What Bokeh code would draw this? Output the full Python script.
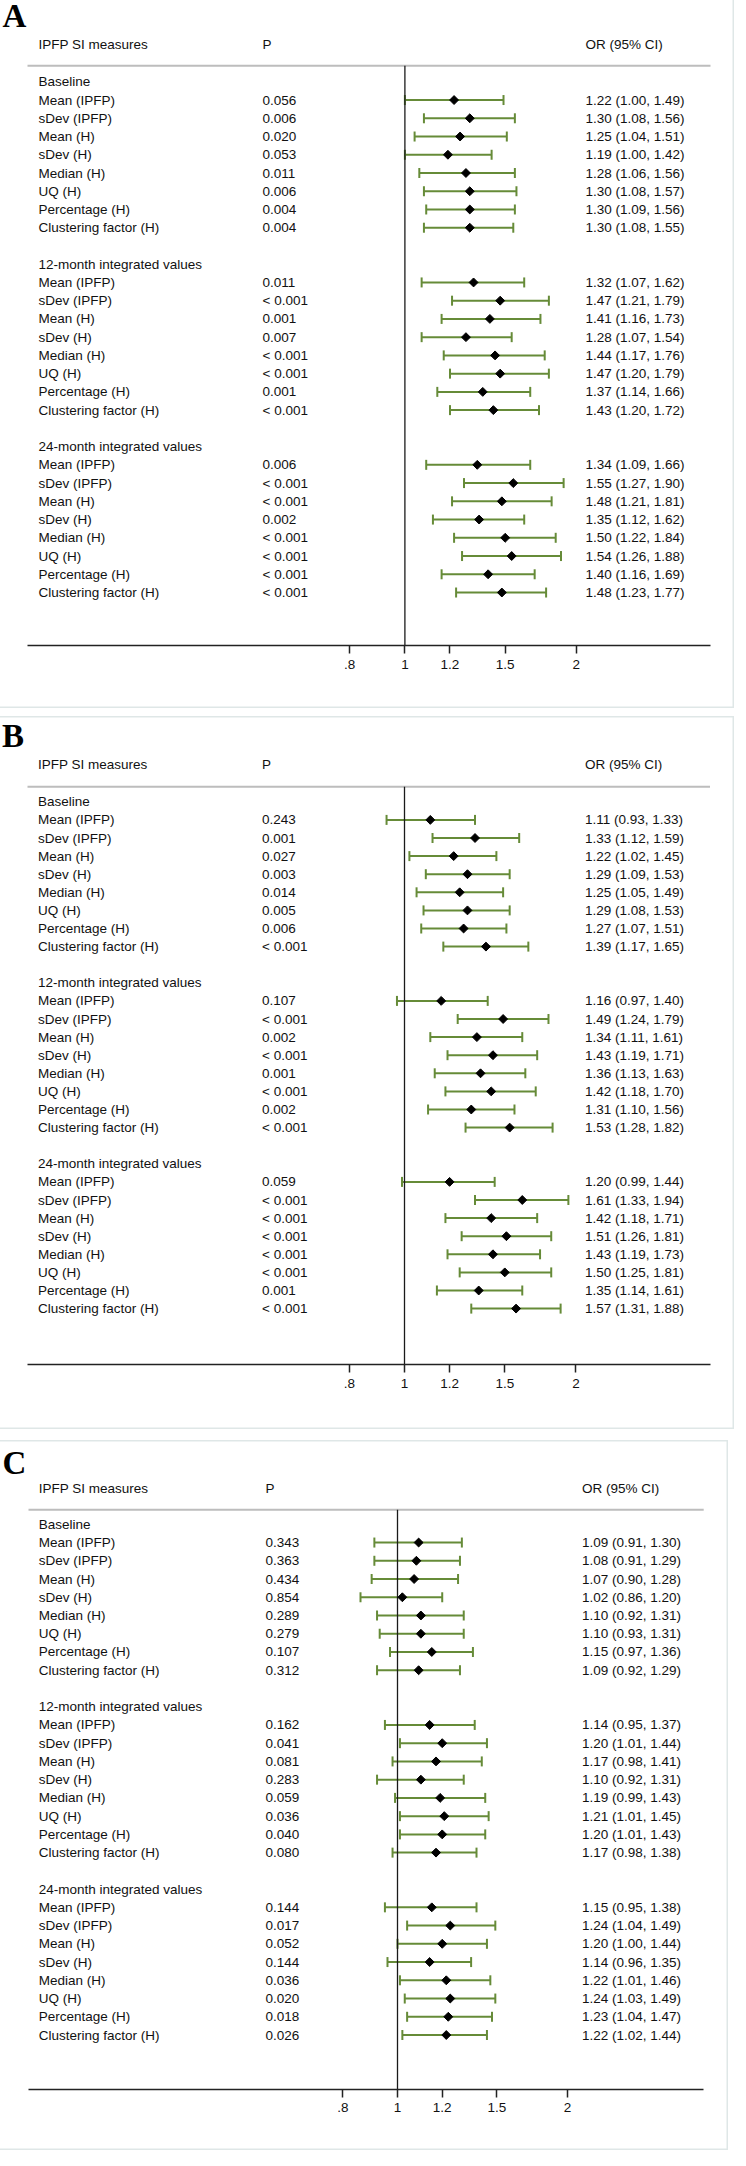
import math
from bokeh.plotting import figure
from bokeh.models import ColumnDataSource, Range1d, LogAxis, FixedTicker, Whisker, TeeHead
from bokeh.layouts import column
from bokeh.embed import file_html
from bokeh.resources import INLINE
from bokeh.core.properties import value

# ---------------- data ----------------
sections = ["Baseline", "12-month integrated values", "24-month integrated values"]
measures = ["Mean (IPFP)", "sDev (IPFP)", "Mean (H)", "sDev (H)", "Median (H)",
            "UQ (H)", "Percentage (H)", "Clustering factor (H)"]
col_headers = ["IPFP SI measures", "P", "OR (95% CI)"]
ticks = [0.8, 1, 1.2, 1.5, 2]
tick_labels = [".8", "1", "1.2", "1.5", "2"]
panel_letters = ["A", "B", "C"]

# Panel A
a_p = ["0.056", "0.006", "0.020", "0.053", "0.011", "0.006", "0.004", "0.004",
       "0.011", "< 0.001", "0.001", "0.007", "< 0.001", "< 0.001", "0.001", "< 0.001",
       "0.006", "< 0.001", "< 0.001", "0.002", "< 0.001", "< 0.001", "< 0.001", "< 0.001"]
a_or = [1.22, 1.30, 1.25, 1.19, 1.28, 1.30, 1.30, 1.30,
        1.32, 1.47, 1.41, 1.28, 1.44, 1.47, 1.37, 1.43,
        1.34, 1.55, 1.48, 1.35, 1.50, 1.54, 1.40, 1.48]
a_lo = [1.00, 1.08, 1.04, 1.00, 1.06, 1.08, 1.09, 1.08,
        1.07, 1.21, 1.16, 1.07, 1.17, 1.20, 1.14, 1.20,
        1.09, 1.27, 1.21, 1.12, 1.22, 1.26, 1.16, 1.23]
a_hi = [1.49, 1.56, 1.51, 1.42, 1.56, 1.57, 1.56, 1.55,
        1.62, 1.79, 1.73, 1.54, 1.76, 1.79, 1.66, 1.72,
        1.66, 1.90, 1.81, 1.62, 1.84, 1.88, 1.69, 1.77]

# Panel B
b_p = ["0.243", "0.001", "0.027", "0.003", "0.014", "0.005", "0.006", "< 0.001",
       "0.107", "< 0.001", "0.002", "< 0.001", "0.001", "< 0.001", "0.002", "< 0.001",
       "0.059", "< 0.001", "< 0.001", "< 0.001", "< 0.001", "< 0.001", "0.001", "< 0.001"]
b_or = [1.11, 1.33, 1.22, 1.29, 1.25, 1.29, 1.27, 1.39,
        1.16, 1.49, 1.34, 1.43, 1.36, 1.42, 1.31, 1.53,
        1.20, 1.61, 1.42, 1.51, 1.43, 1.50, 1.35, 1.57]
b_lo = [0.93, 1.12, 1.02, 1.09, 1.05, 1.08, 1.07, 1.17,
        0.97, 1.24, 1.11, 1.19, 1.13, 1.18, 1.10, 1.28,
        0.99, 1.33, 1.18, 1.26, 1.19, 1.25, 1.14, 1.31]
b_hi = [1.33, 1.59, 1.45, 1.53, 1.49, 1.53, 1.51, 1.65,
        1.40, 1.79, 1.61, 1.71, 1.63, 1.70, 1.56, 1.82,
        1.44, 1.94, 1.71, 1.81, 1.73, 1.81, 1.61, 1.88]

# Panel C
c_p = ["0.343", "0.363", "0.434", "0.854", "0.289", "0.279", "0.107", "0.312",
       "0.162", "0.041", "0.081", "0.283", "0.059", "0.036", "0.040", "0.080",
       "0.144", "0.017", "0.052", "0.144", "0.036", "0.020", "0.018", "0.026"]
c_or = [1.09, 1.08, 1.07, 1.02, 1.10, 1.10, 1.15, 1.09,
        1.14, 1.20, 1.17, 1.10, 1.19, 1.21, 1.20, 1.17,
        1.15, 1.24, 1.20, 1.14, 1.22, 1.24, 1.23, 1.22]
c_lo = [0.91, 0.91, 0.90, 0.86, 0.92, 0.93, 0.97, 0.92,
        0.95, 1.01, 0.98, 0.92, 0.99, 1.01, 1.01, 0.98,
        0.95, 1.04, 1.00, 0.96, 1.01, 1.03, 1.04, 1.02]
c_hi = [1.30, 1.29, 1.28, 1.20, 1.31, 1.31, 1.36, 1.29,
        1.37, 1.44, 1.41, 1.31, 1.43, 1.45, 1.43, 1.38,
        1.38, 1.49, 1.44, 1.35, 1.46, 1.49, 1.47, 1.44]

# ---------------- styling / layout ----------------
FONT = "Liberation Sans"
FS = "13.5px"
TXT = "#111111"
CI_COLOR = "#668b38"


def make_panel(letter, pvals, ors, los, his, g):
    W, H = g["W"], g["H"]
    x1, k = g["x1"], g["k"]
    row0, step = g["row0"], g["step"]

    def px2x(px):
        return math.exp((px - x1) / k)

    def py2y(py):
        return (py - row0) / step

    p = figure(width=W, height=H, x_axis_type="log",
               x_range=Range1d(px2x(0), px2x(W)),
               y_range=Range1d(py2y(H), py2y(0)),
               x_axis_location=None, y_axis_location=None,
               toolbar_location=None, output_backend="svg",
               min_border=0, title=None)
    p.grid.visible = False
    p.background_fill_color = "white"
    p.border_fill_color = "white"
    p.outline_line_color = "#dfe7e7"
    p.outline_line_width = 2

    # rows
    ys, labels = [], []
    for s in range(len(sections)):
        for j in range(len(measures)):
            ys.append(s * 10 + 1 + j)
            labels.append(measures[j])
    ci_text = ["%.2f (%.2f, %.2f)" % (o, l, h) for o, l, h in zip(ors, los, his)]
    src = ColumnDataSource(dict(y=ys, label=labels, p=pvals, orv=ors, lo=los, hi=his, ci=ci_text))
    sec_src = ColumnDataSource(dict(y=[s * 10 for s in range(len(sections))], label=sections))

    tkw = dict(text_font=value(FONT), text_font_size=FS, text_color=TXT,
               text_baseline="middle", text_align="left")

    # panel letter
    p.text(x=[px2x(g["letter_x"])], y=[py2y(g["letter_y"])], text=[letter],
           text_font=value("Liberation Serif"), text_font_style="bold",
           text_font_size="33px", text_color="black", text_baseline="middle", text_align="left")

    # header
    hy = py2y(g["header"])
    p.text(x=[px2x(g["col_label"]), px2x(g["col_p"]), px2x(g["col_or"])], y=[hy, hy, hy],
           text=col_headers, **tkw)

    # separator
    sy = py2y(g["sep"])
    p.segment(x0=[px2x(g["sep_x0"])], x1=[px2x(g["sep_x1"])], y0=[sy], y1=[sy],
              line_color="#bdbdbd", line_width=2)

    # reference line at OR = 1
    ay = py2y(g["axis"])
    p.segment(x0=[1], x1=[1], y0=[sy], y1=[ay], line_color="#1a1a1a", line_width=1.3)

    # texts
    p.text(x=px2x(g["col_label"]), y="y", text="label", source=sec_src, **tkw)
    p.text(x=px2x(g["col_label"]), y="y", text="label", source=src, **tkw)
    p.text(x=px2x(g["col_p"]), y="y", text="p", source=src, **tkw)
    p.text(x=px2x(g["col_or"]), y="y", text="ci", source=src, **tkw)

    # CI whiskers
    w = Whisker(source=src, base="y", lower="lo", upper="hi", dimension="width",
                line_color=CI_COLOR, line_width=2,
                lower_head=TeeHead(size=10, line_color=CI_COLOR, line_width=2),
                upper_head=TeeHead(size=10, line_color=CI_COLOR, line_width=2))
    p.add_layout(w)

    # point estimates (rotated squares = diamonds)
    p.scatter(x="orv", y="y", source=src, marker="square", angle=math.pi / 4, size=6.3,
              fill_color="black", line_color="black", line_width=1)

    # x axis
    ax = LogAxis(fixed_location=ay, bounds=(px2x(g["sep_x0"]), px2x(g["sep_x1"])),
                 ticker=FixedTicker(ticks=ticks),
                 major_label_overrides={t: lab for t, lab in zip(ticks, tick_labels)},
                 axis_line_color="#222222", axis_line_width=1.5,
                 major_tick_line_color="#222222", major_tick_line_width=1.5,
                 major_tick_in=0, major_tick_out=8,
                 minor_tick_in=0, minor_tick_out=0,
                 major_label_standoff=6,
                 major_label_text_font=FONT, major_label_text_font_size=FS,
                 major_label_text_color=TXT)
    p.add_layout(ax, "below")
    p.margin = g["margin"]
    return p


geoA = dict(W=739, H=711, x1=409.4, k=247.3, row0=84.3, step=18.24,
            col_label=43, col_p=267, col_or=590, sep_x0=32, sep_x1=715,
            letter_x=7, letter_y=18.5, header=47, sep=68.3, axis=648, margin=(0, 0, 0, 0))
geoB = dict(W=739, H=713, x1=409.0, k=247.3, row0=85.3, step=18.1,
            col_label=42.5, col_p=266.5, col_or=589.5, sep_x0=32, sep_x1=714.5,
            letter_x=6.5, letter_y=19.3, header=48.3, sep=70.3, axis=648, margin=(8, 0, 0, 0))
geoC = dict(W=731, H=710, x1=400.0, k=245.3, row0=83.8, step=18.24,
            col_label=41.2, col_p=268, col_or=584.5, sep_x0=31, sep_x1=706.2,
            letter_x=5, letter_y=22, header=48, sep=69.3, axis=648.7, margin=(11, 0, 0, 2))

pA = make_panel(panel_letters[0], a_p, a_or, a_lo, a_hi, geoA)
pB = make_panel(panel_letters[1], b_p, b_or, b_lo, b_hi, geoB)
pC = make_panel(panel_letters[2], c_p, c_or, c_lo, c_hi, geoC)

layout = column(pA, pB, pC, spacing=0, margin=(-3, 0, 0, -5))

open("out.html", "w").write(file_html(layout, INLINE))
